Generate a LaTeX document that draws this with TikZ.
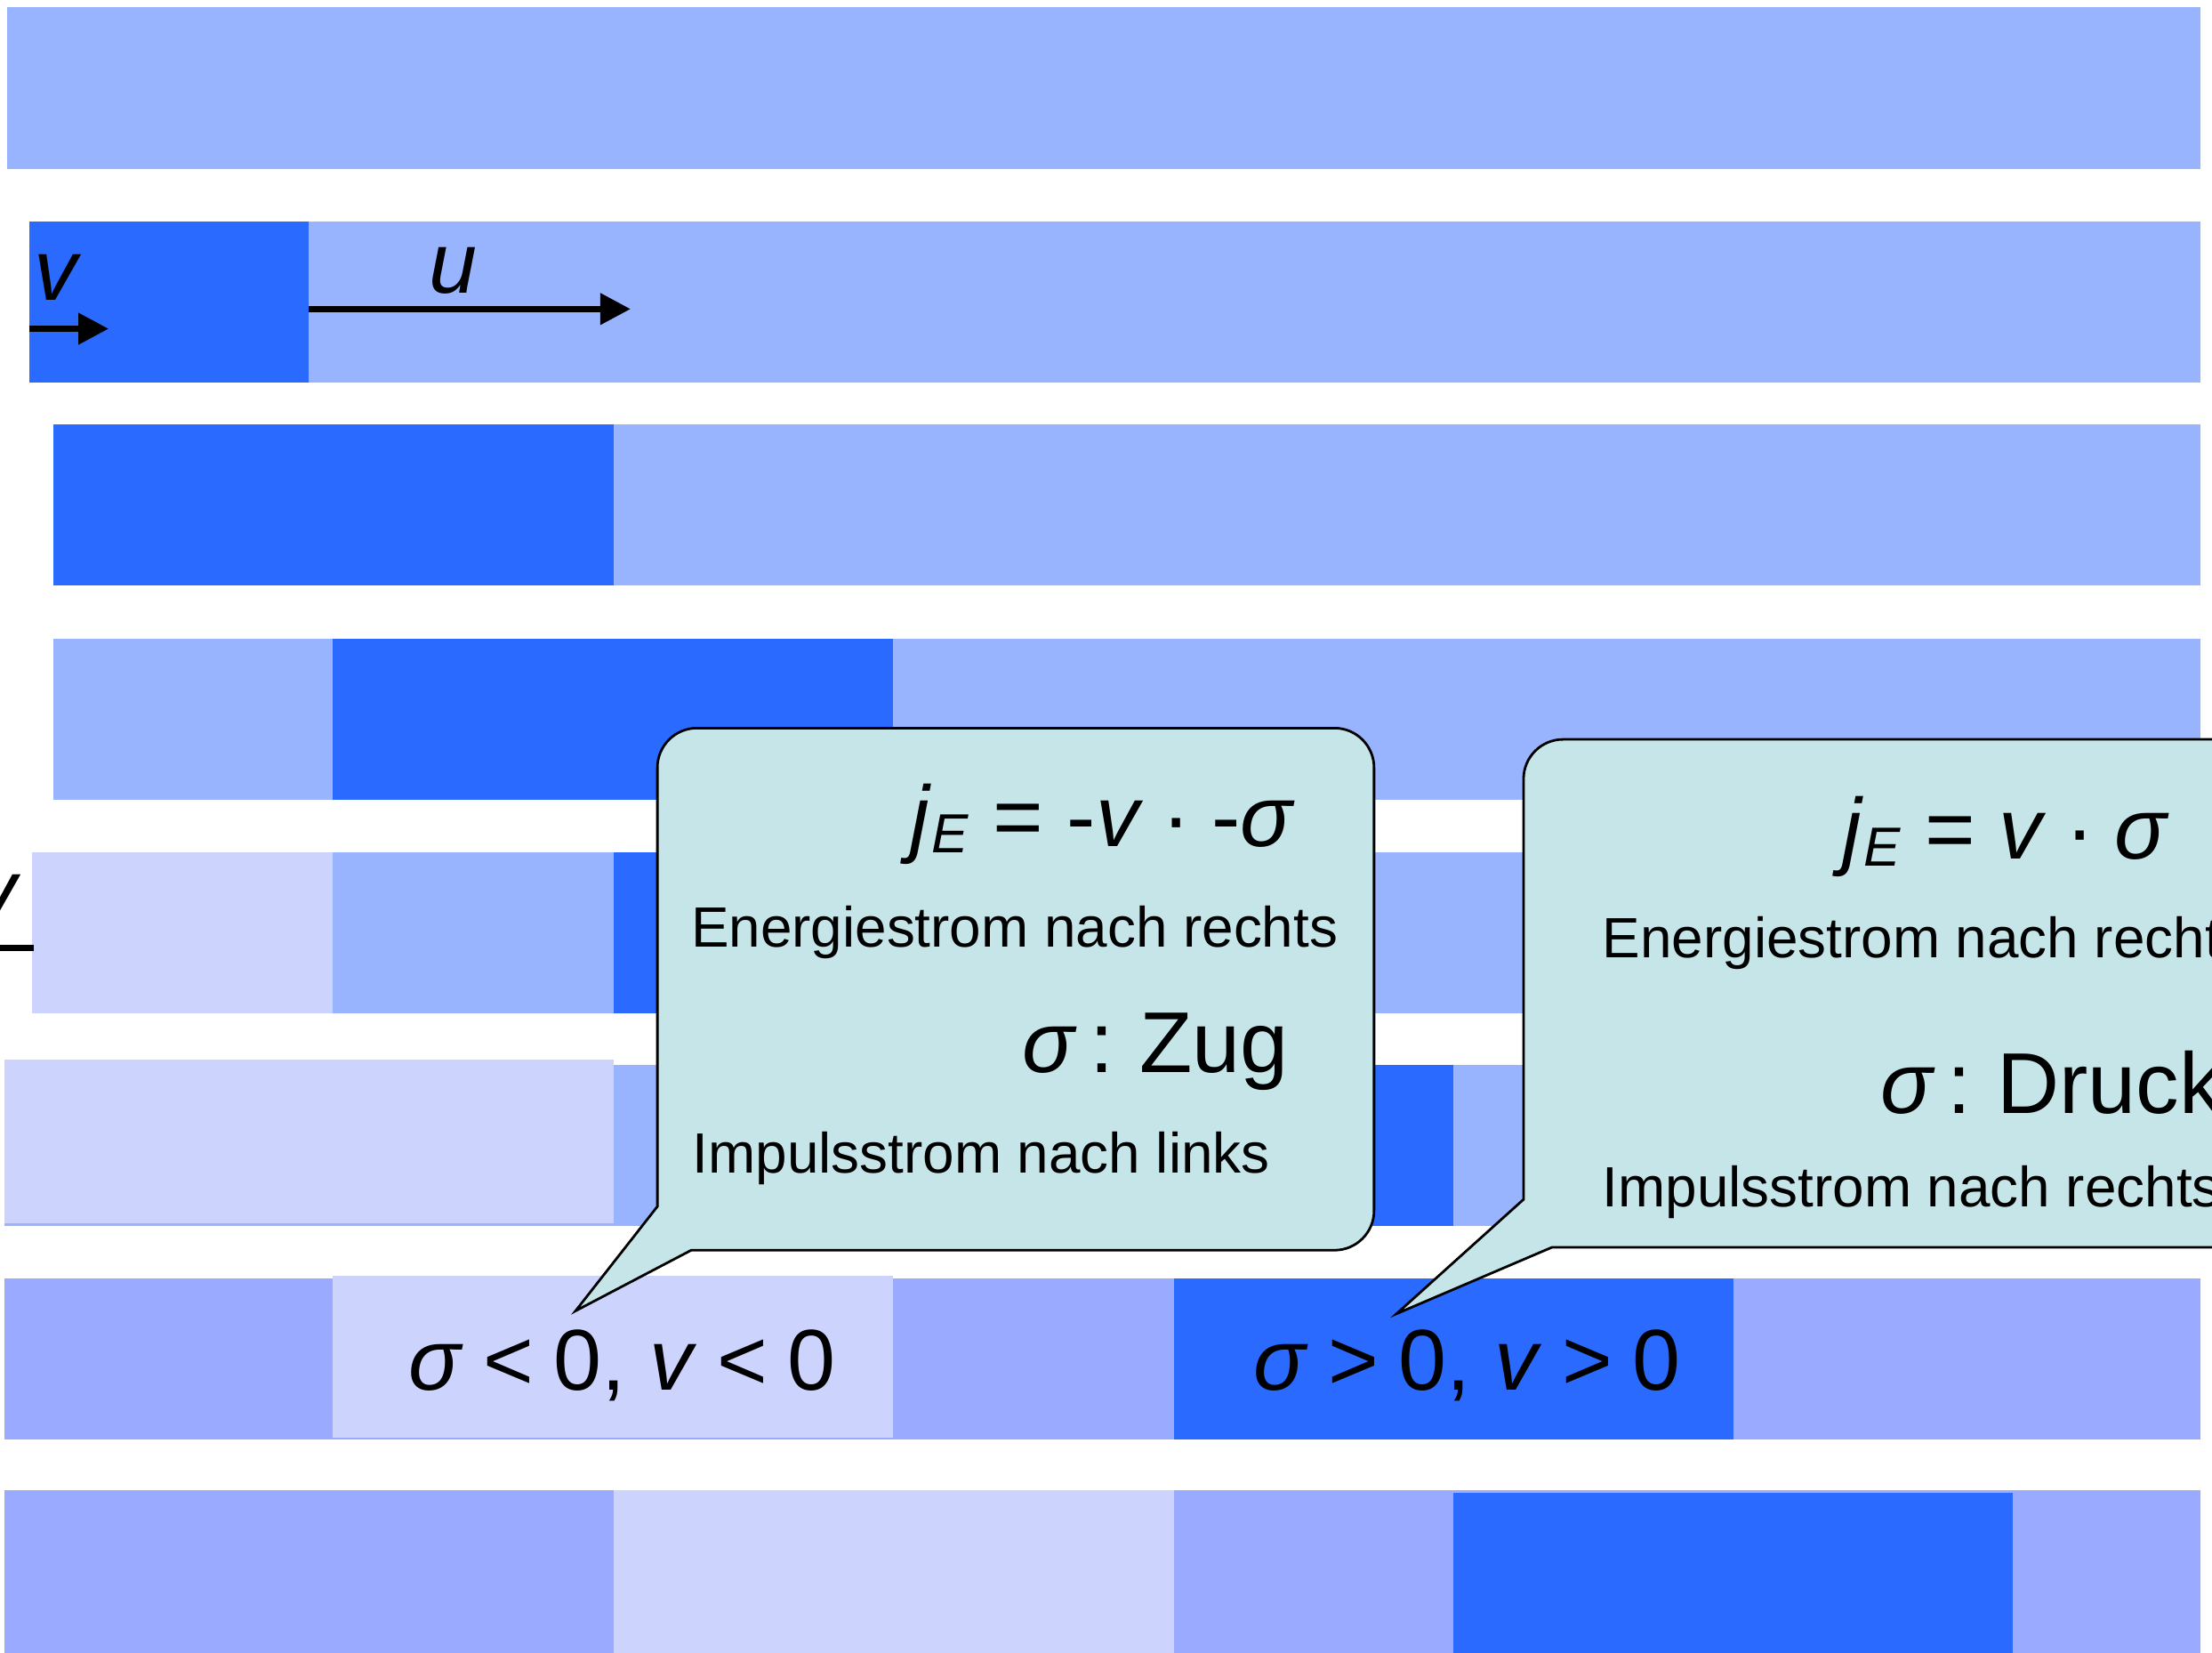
\documentclass[tikz,border=0pt]{standalone}
\usepackage{fontspec}
\setmainfont{Liberation Sans}
\usetikzlibrary{arrows.meta}
\definecolor{wavedark}{HTML}{2B6AFF}
\definecolor{wavelight}{HTML}{99B4FE}
\definecolor{wavepale}{HTML}{CCD4FE}
\definecolor{wavemid}{HTML}{9AAAFE}
\definecolor{calloutfill}{HTML}{C6E5E9}
\newcommand{\bigfont}{\fontsize{17.4}{20}\selectfont}
\newcommand{\smallfont}{\fontsize{11.44}{13.5}\selectfont}
\newcommand{\subfont}{\fontsize{11.1}{13}\selectfont}
\newcommand{\jE}{\textit{j}\raisebox{-1.3pt}{\subfont\textit{E}}}
\newcommand{\mdot}{\kern0.22em·\kern0.24em}
\newcommand{\relgap}{\hspace{0.23em}}
\newcommand{\colongap}[1]{\textit{σ}\kern0.14em:\kern0.3em #1}

\begin{document}
\begin{tikzpicture}[x=0.01cm,y=-0.01cm,
  txt/.style={inner sep=0pt,outer sep=0pt},
  callout/.style={draw=black,line width=0.5pt,fill=calloutfill},
  velo/.style={line width=0.045cm,-{Triangle[length=0.215cm,width=0.215cm]}}]
  % canvas 1568 x 1171 (units of 0.01cm, y downwards)
  \useasboundingbox (0,0) rectangle (1568,1171);
  \clip (0,0) rectangle (1568,1171);

  % Bars, one row per time step; the dark block moves one cell to the right
  \foreach \xa/\ya/\xb/\yb/\c in {%
    5/5/1560/120/wavelight,
    21/157/219/271/wavedark, 219/157/1560/271/wavelight,
    38/301/435/415/wavedark, 435/301/1560/415/wavelight,
    38/453/236/567/wavelight, 236/453/633/567/wavedark, 633/453/1560/567/wavelight,
    23/604/236/718/wavepale, 236/604/435/718/wavelight, 435/604/633/718/wavedark,
    633/604/1560/718/wavelight,
    3/755/1560/869/wavelight, 3/751/435/867/wavepale, 633/755/1030/869/wavedark,
    3/906/1560/1020/wavemid, 236/904/633/1019/wavepale, 832/906/1229/1020/wavedark,
    3/1056/1560/1180/wavemid, 435/1056/832/1180/wavepale, 1030/1058/1427/1180/wavedark} {
    \fill[\c] (\xa,\ya) rectangle (\xb,\yb);
  }

  % Velocity arrows
  \coordinate (vtail) at (21,233);
  \coordinate (vhead) at (77,233);
  \coordinate (utail) at (219,219);
  \coordinate (uhead) at (447,219);
  \coordinate (wtail) at (24,672);
  \coordinate (whead) at (-34,672);
  \draw[velo] (vtail) -- (vhead);
  \draw[velo] (utail) -- (uhead);
  \draw[velo] (wtail) -- (whead);
  \node[txt,anchor=base west,font=\bigfont] (vlab) at (24,213) {\textit{v}};
  \node[txt,anchor=base west,font=\bigfont] (ulab) at (304,208) {\textit{u}};
  \node[txt,anchor=base east,font=\bigfont] (wlab) at (15,652) {\textit{v}};

  % Callout for the left-moving part
  \draw[callout] (408,929) -- (466,855) -- (466,700) [rounded corners=0.28cm]
    -- (466,516) -- (974,516) -- (974,886) [sharp corners] -- (490,886) -- cycle;
  \node[txt,anchor=base east,font=\bigfont] (eqA) at (918,600)
    {\jE{} = -\textit{v}\mdot-\textit{σ}};
  \node[txt,anchor=base west,font=\smallfont] (energyA) at (490,671)
    {Energiestrom nach rechts};
  \node[txt,anchor=base west,font=\bigfont] (stressA) at (725,760)
    {\colongap{Zug}};
  \node[txt,anchor=base west,font=\smallfont] (momA) at (491,831)
    {Impulsstrom nach links};

  % Callout for the right-moving part
  \draw[callout] (990,931) -- (1080,850) -- (1080,700) [rounded corners=0.28cm]
    -- (1080,524) -- (1680,524) -- (1680,884) [sharp corners] -- (1100,884) -- cycle;
  \node[txt,anchor=base west,font=\bigfont] (eqB) at (1306,609)
    {\jE{} = \textit{v}\mdot\textit{σ}};
  \node[txt,anchor=base west,font=\smallfont] (energyB) at (1136,679)
    {Energiestrom nach rechts};
  \node[txt,anchor=base west,font=\bigfont] (stressB) at (1333,789)
    {\colongap{Druck}};
  \node[txt,anchor=base west,font=\smallfont] (momB) at (1136,855)
    {Impulsstrom nach rechts};

  % Sign conditions in row 7
  \node[txt,anchor=base,font=\bigfont] (signA) at (441,985)
    {\textit{σ}\relgap<\relgap0, \textit{v}\relgap<\relgap0};
  \node[txt,anchor=base,font=\bigfont] (signB) at (1040,985)
    {\textit{σ}\relgap>\relgap0, \textit{v}\relgap>\relgap0};
\end{tikzpicture}
\end{document}
